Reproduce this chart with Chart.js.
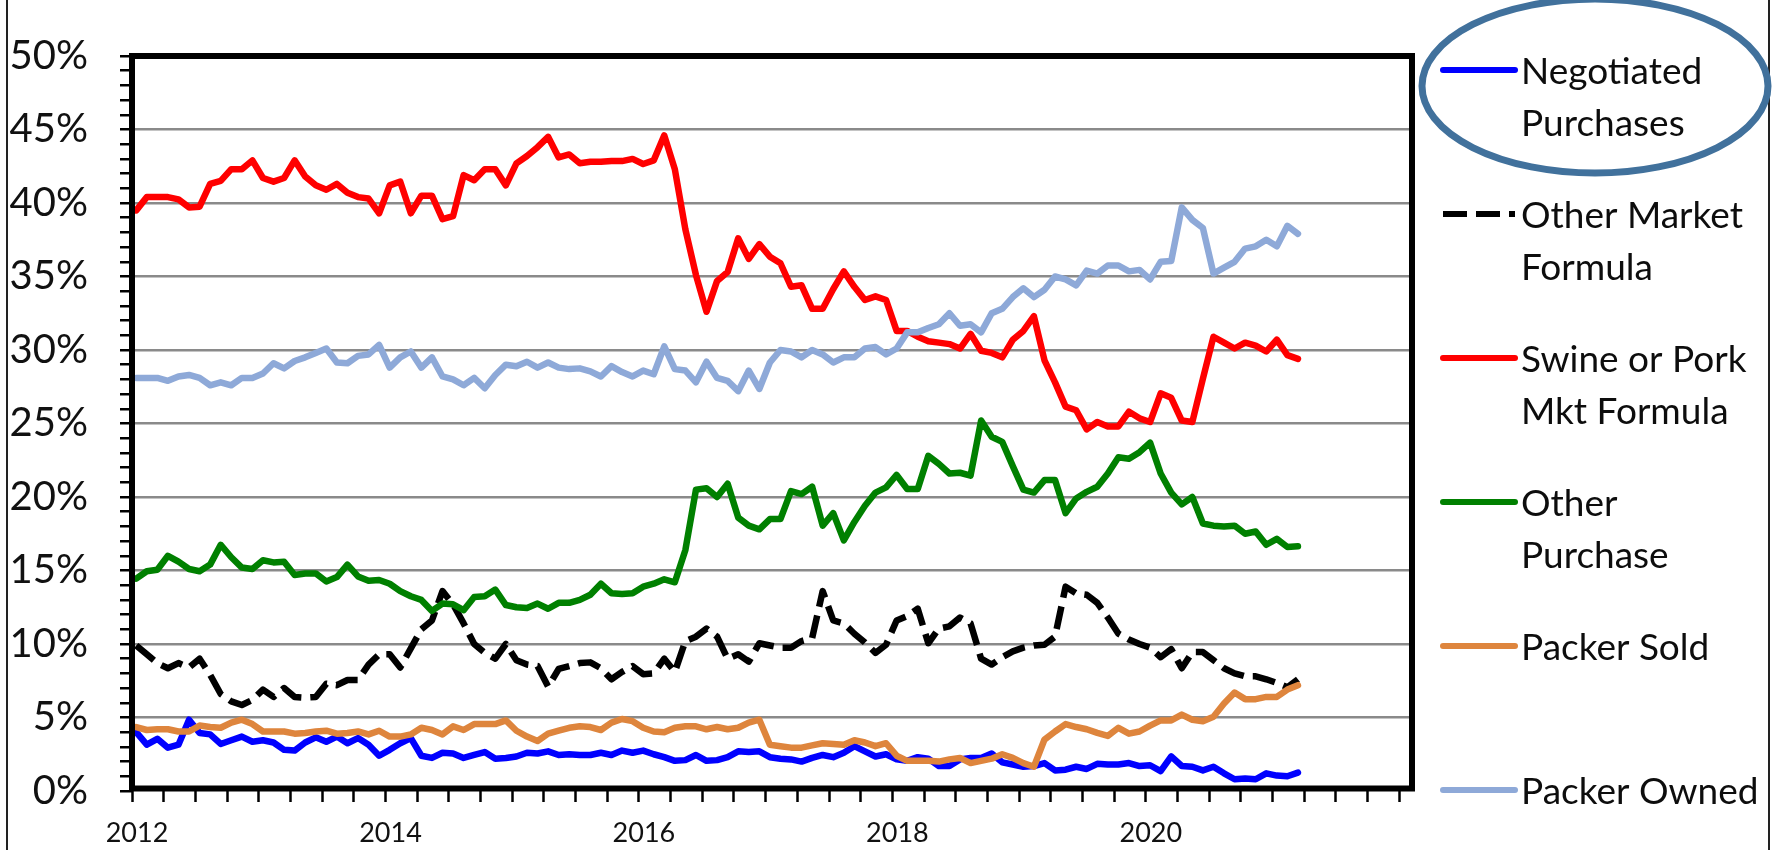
<!DOCTYPE html>
<html>
<head>
<meta charset="utf-8">
<title>Hog purchase types, share of head</title>
<script src="https://cdn.jsdelivr.net/npm/chart.js@4.4.1/dist/chart.umd.min.js"></script>
<style>
  html, body { margin: 0; padding: 0; background: #fff; }
  #wrap { width: 1781px; height: 850px; }
</style>
</head>
<body>
<div id="wrap"><canvas id="chart" width="1781" height="850"></canvas></div>
<script>
// monthly shares in %, Jan 2012 .. Mar 2021
var startYear = 2012;

var negotiated = [
  4.0, 3.15, 3.55, 2.95, 3.15, 4.85, 3.95, 3.85, 3.2, 3.45,
  3.7, 3.35, 3.45, 3.3, 2.8, 2.75, 3.3, 3.65, 3.35, 3.7,
  3.25, 3.6, 3.15, 2.4, 2.8, 3.25, 3.6, 2.4, 2.25, 2.6,
  2.55, 2.25, 2.45, 2.65, 2.2, 2.25, 2.35, 2.6, 2.55, 2.7,
  2.45, 2.5, 2.45, 2.45, 2.6, 2.45, 2.75, 2.6, 2.75, 2.5,
  2.3, 2.05, 2.1, 2.45, 2.05, 2.1, 2.3, 2.7, 2.65, 2.7,
  2.3, 2.2, 2.15, 2.0, 2.25, 2.45, 2.3, 2.6, 3.05, 2.7,
  2.35, 2.5, 2.15, 2.05, 2.3, 2.2, 1.7, 1.7, 2.15, 2.25,
  2.25, 2.55, 1.95, 1.8, 1.65, 1.7, 1.9, 1.4, 1.45, 1.65,
  1.5, 1.85, 1.8, 1.8, 1.9, 1.7, 1.75, 1.35, 2.35, 1.7,
  1.65, 1.4, 1.65, 1.2, 0.8, 0.85, 0.8, 1.2, 1.05, 1.0, 1.25
];
var otherMarket = [
  9.9, 9.3, 8.7, 8.35, 8.7, 8.4, 9.0, 7.9, 6.6, 6.1,
  5.85, 6.2, 6.9, 6.4, 7.0, 6.4, 6.35, 6.4, 7.3, 7.2,
  7.55, 7.55, 8.6, 9.3, 9.3, 8.4, 9.7, 11.0, 11.6, 13.6,
  12.7, 11.4, 10.0, 9.4, 9.0, 10.0, 8.9, 8.6, 8.5, 7.1,
  8.3, 8.5, 8.7, 8.75, 8.35, 7.6, 8.1, 8.5, 7.95, 8.0,
  9.0, 8.1, 10.2, 10.5, 11.05, 10.5, 9.0, 9.3, 8.8, 10.05,
  9.9, 9.75, 9.75, 10.2, 10.4, 13.6, 11.6, 11.4, 10.7, 10.1,
  9.4, 9.95, 11.6, 11.9, 12.4, 10.05, 11.05, 11.2, 11.8, 11.4,
  9.0, 8.6, 9.1, 9.5, 9.75, 9.9, 9.95, 10.5, 13.9, 13.45,
  13.35, 12.8, 11.8, 10.7, 10.3, 10.0, 9.75, 9.1, 9.65, 8.35,
  9.45, 9.45, 8.9, 8.35, 8.0, 7.8, 7.8, 7.6, 7.35, 7.05, 7.6
];
var swinePork = [
  39.5, 40.4, 40.4, 40.4, 40.25, 39.7, 39.75, 41.3, 41.5, 42.3,
  42.3, 42.9, 41.7, 41.45, 41.7, 42.9, 41.8, 41.2, 40.9, 41.3,
  40.7, 40.4, 40.3, 39.3, 41.2, 41.45, 39.3, 40.5, 40.5, 38.9,
  39.1, 41.9, 41.55, 42.3, 42.3, 41.2, 42.7, 43.2, 43.8, 44.5,
  43.1, 43.3, 42.7, 42.8, 42.8, 42.85, 42.85, 43.0, 42.65, 42.9,
  44.6, 42.3, 38.2, 35.1, 32.6, 34.7, 35.3, 37.6, 36.2, 37.2,
  36.35, 35.9, 34.3, 34.4, 32.8, 32.8, 34.15, 35.35, 34.3, 33.4,
  33.65, 33.4, 31.3, 31.3, 30.9, 30.6, 30.5, 30.4, 30.1, 31.1,
  29.95, 29.8, 29.5, 30.7, 31.3, 32.3, 29.3, 27.8, 26.15, 25.9,
  24.6, 25.1, 24.8, 24.8, 25.8, 25.35, 25.1, 27.05, 26.75, 25.2,
  25.1, 28.05, 30.9, 30.5, 30.1, 30.5, 30.3, 29.9, 30.7, 29.65, 29.4
];
var otherPurchase = [
  14.45, 14.95, 15.05, 16.0, 15.6, 15.1, 14.95, 15.4, 16.75, 15.9,
  15.2, 15.1, 15.7, 15.55, 15.6, 14.7, 14.8, 14.8, 14.25, 14.55,
  15.4, 14.6, 14.3, 14.35, 14.1, 13.6, 13.25, 13.0, 12.25, 12.75,
  12.7, 12.3, 13.2, 13.25, 13.7, 12.65, 12.5, 12.45, 12.75, 12.4,
  12.8, 12.8, 13.0, 13.35, 14.1, 13.45, 13.4, 13.45, 13.9, 14.1,
  14.4, 14.2, 16.4, 20.5, 20.6, 20.0, 20.9, 18.6, 18.05, 17.8,
  18.5, 18.5, 20.4, 20.2, 20.7, 18.05, 18.9, 17.05, 18.3, 19.4,
  20.3, 20.65, 21.5, 20.55, 20.55, 22.8, 22.25, 21.6, 21.65, 21.45,
  25.2, 24.1, 23.75, 22.1, 20.5, 20.3, 21.15, 21.15, 18.9, 19.9,
  20.35, 20.7, 21.6, 22.7, 22.6, 23.05, 23.7, 21.6, 20.3, 19.5,
  20.0, 18.2, 18.05, 18.0, 18.05, 17.5, 17.65, 16.75, 17.15, 16.6, 16.65
];
var packerSold = [
  4.35, 4.15, 4.2, 4.2, 4.05, 4.05, 4.45, 4.35, 4.3, 4.65,
  4.85, 4.55, 4.05, 4.05, 4.05, 3.9, 3.95, 4.05, 4.1, 3.9,
  3.95, 4.05, 3.85, 4.1, 3.7, 3.7, 3.85, 4.3, 4.15, 3.85,
  4.4, 4.15, 4.55, 4.55, 4.55, 4.8, 4.1, 3.7, 3.4, 3.9,
  4.1, 4.3, 4.4, 4.35, 4.15, 4.65, 4.9, 4.75, 4.3, 4.05,
  4.0, 4.3, 4.4, 4.4, 4.2, 4.35, 4.2, 4.3, 4.65, 4.85,
  3.15, 3.05, 2.95, 2.95, 3.1, 3.25, 3.2, 3.15, 3.45, 3.3,
  3.05, 3.25, 2.4, 2.05, 2.05, 2.05, 2.0, 2.15, 2.25, 1.9,
  2.05, 2.2, 2.5, 2.25, 1.9, 1.65, 3.5, 4.05, 4.55, 4.35,
  4.2, 3.95, 3.75, 4.3, 3.9, 4.05, 4.45, 4.8, 4.8, 5.2,
  4.85, 4.75, 5.05, 5.95, 6.7, 6.25, 6.25, 6.4, 6.4, 6.9, 7.2
];
var packerOwned = [
  28.1, 28.1, 28.1, 27.9, 28.2, 28.3, 28.1, 27.6, 27.8, 27.6,
  28.1, 28.1, 28.4, 29.1, 28.75, 29.25, 29.5, 29.8, 30.1, 29.15,
  29.1, 29.6, 29.7, 30.35, 28.8, 29.5, 29.9, 28.8, 29.5, 28.2,
  28.0, 27.6, 28.1, 27.4, 28.3, 29.0, 28.9, 29.2, 28.8, 29.15,
  28.8, 28.7, 28.75, 28.55, 28.2, 28.9, 28.5, 28.2, 28.6, 28.35,
  30.25, 28.7, 28.6, 27.8, 29.2, 28.1, 27.9, 27.2, 28.6, 27.35,
  29.15, 30.0, 29.9, 29.5, 30.0, 29.7, 29.15, 29.5, 29.5, 30.1,
  30.2, 29.7, 30.1, 31.2, 31.2, 31.5, 31.75, 32.5, 31.65, 31.75,
  31.2, 32.5, 32.8, 33.6, 34.2, 33.6, 34.1, 35.0, 34.8, 34.4,
  35.4, 35.2, 35.75, 35.75, 35.35, 35.45, 34.8, 36.0, 36.05, 39.7,
  38.85, 38.3, 35.2, 35.6, 36.0, 36.9, 37.05, 37.5, 37.05, 38.45, 37.9
];

var seriesNames = [
  ['Negotiated', 'Purchases'],
  ['Other Market', 'Formula'],
  ['Swine or Pork', 'Mkt Formula'],
  ['Other', 'Purchase'],
  ['Packer Sold'],
  ['Packer Owned']
];
var xLabelYears = [2012, 2014, 2016, 2018, 2020];

// each month sits a little after the first of the month on the date axis
var months = negotiated.map(function (v, i) { return startYear + (i + 0.4) / 12; });

function toPoints(values) {
  return values.map(function (v, i) { return { x: months[i], y: v }; });
}

var colors = ['#0000ff', '#000000', '#ff0000', '#008000', '#de853d', '#8ea9d8'];
var allSeries = [negotiated, otherMarket, swinePork, otherPurchase, packerSold, packerOwned];

var datasets = allSeries.map(function (values, i) {
  var dashed = i === 1;
  return {
    label: seriesNames[i].join(' '),
    data: toPoints(values),
    borderColor: colors[i],
    backgroundColor: colors[i],
    borderWidth: 6.5,
    borderDash: dashed ? [23, 9] : [],
    borderCapStyle: dashed ? 'butt' : 'round',
    borderJoinStyle: 'round',
    pointRadius: 0,
    tension: 0,
    fill: false,
    order: 5 - i  // later series on top, like the original
  };
});

// frame, side rules and the hand-drawn legend with its ellipse
var decorPlugin = {
  id: 'decor',
  afterDraw: function (chart) {
    var ctx = chart.ctx;
    var a = chart.chartArea;
    ctx.save();

    // thin outer rules
    ctx.strokeStyle = '#222';
    ctx.lineWidth = 2;
    ctx.beginPath();
    ctx.moveTo(7, 0); ctx.lineTo(7, 850);
    ctx.moveTo(1769, 0); ctx.lineTo(1769, 850);
    ctx.stroke();

    // thick plot border
    ctx.strokeStyle = '#000';
    ctx.lineWidth = 6;
    ctx.strokeRect(a.left, a.top, a.right - a.left, a.bottom - 2.5 - a.top);

    // legend
    var x1 = 1443, x2 = 1515, tx = 1521;
    ctx.font = '37px Lato';
    ctx.textBaseline = 'middle';
    ctx.textAlign = 'left';
    chart.data.datasets.forEach(function (ds, i) {
      var y = 70 + 144 * i;
      ctx.strokeStyle = ds.borderColor;
      ctx.lineWidth = 6;
      ctx.setLineDash(ds.borderDash.length ? [24, 9] : []);
      ctx.lineCap = ds.borderCapStyle;
      ctx.beginPath();
      ctx.moveTo(x1, y); ctx.lineTo(x2, y);
      ctx.stroke();
      ctx.setLineDash([]);
      ctx.fillStyle = '#0d0d0d';
      seriesNames[i].forEach(function (line, k) {
        ctx.fillText(line, tx, y + 2 + k * 52);
      });
    });

    // ellipse round the first legend entry
    ctx.strokeStyle = '#41719c';
    ctx.lineWidth = 7;
    ctx.beginPath();
    ctx.ellipse(1595, 86, 173, 87, 0, 0, Math.PI * 2);
    ctx.stroke();

    ctx.restore();
  }
};

var ctx = document.getElementById('chart').getContext('2d');
new Chart(ctx, {
  type: 'line',
  data: { datasets: datasets },
  plugins: [decorPlugin],
  options: {
    responsive: false,
    animation: false,
    devicePixelRatio: 1,
    layout: { padding: { left: 0, top: 26, right: 369, bottom: 0 } },
    plugins: {
      legend: { display: false },
      tooltip: { enabled: false }
    },
    scales: {
      x: {
        type: 'linear',
        min: 2012,
        max: 2022.1,
        afterFit: function (s) { s.height = 59; },
        border: { display: false },
        grid: { drawOnChartArea: false, tickColor: '#000', tickLength: 11, tickWidth: 2.5 },
        ticks: {
          stepSize: 0.25,
          autoSkip: false,
          includeBounds: false,
          maxRotation: 0,
          minRotation: 0,
          padding: 15,
          labelOffset: 5,
          color: '#111',
          font: { family: 'Lato', size: 27 },
          callback: function (v) {
            var r = Math.round(v * 4) / 4;
            return xLabelYears.indexOf(r) >= 0 ? String(r) : '';
          }
        }
      },
      y: {
        min: 0,
        max: 50,
        afterFit: function (s) { s.width = 132; },
        border: { display: false },
        grid: {
          color: function (c) {
            var v = c.tick.value;
            return (v % 5 === 0 && v > 0 && v < 50) ? '#8a8a8a' : 'rgba(0,0,0,0)';
          },
          lineWidth: 2.5,
          tickColor: '#000',
          tickLength: 12,
          tickWidth: 2.5
        },
        ticks: {
          stepSize: 1,
          autoSkip: false,
          padding: 32,
          color: '#111',
          font: { family: 'Lato', size: 40 },
          callback: function (v) { return v % 5 === 0 ? v + '%' : ''; }
        }
      }
    }
  }
});
</script>
</body>
</html>
